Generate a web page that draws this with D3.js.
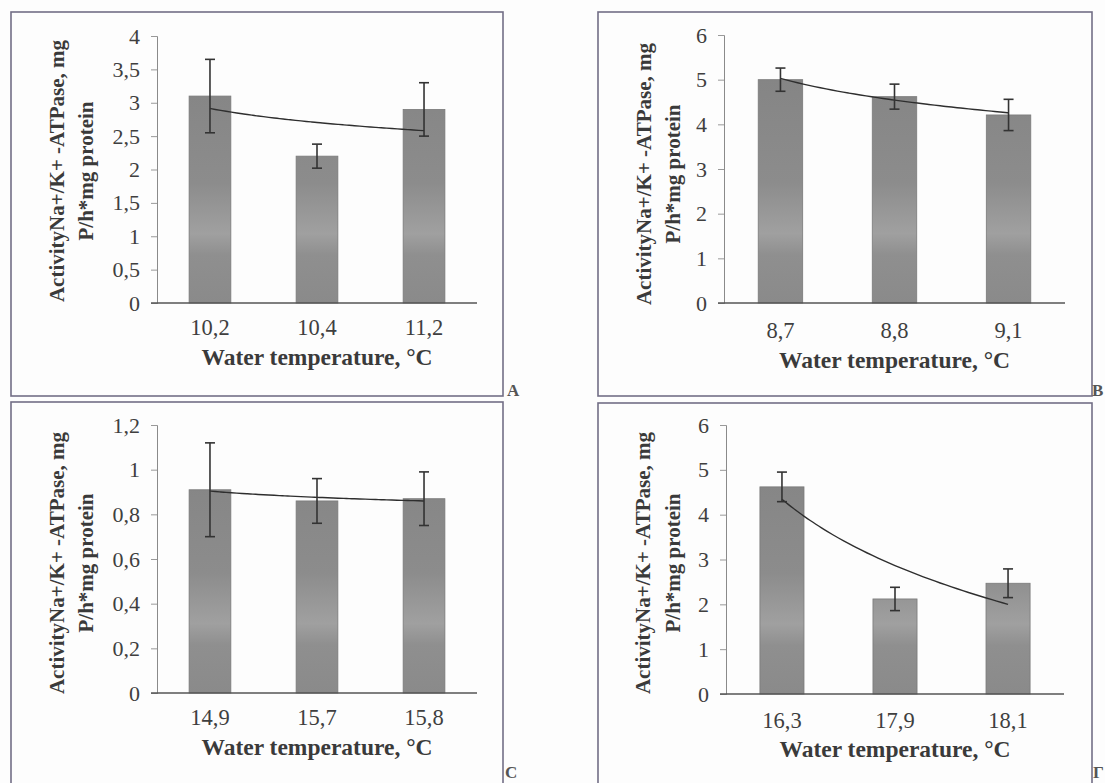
<!DOCTYPE html>
<html>
<head>
<meta charset="utf-8">
<script src="https://cdn.jsdelivr.net/npm/d3@7/dist/d3.min.js"></script>
<style>
  body { margin: 0; background: #fff; }
</style>
</head>
<body>
<svg id="chart" width="1105" height="783"></svg>
<script>
// values (mean and +/- error)
const tempsA = ['10,2', '10,4', '11,2']
const meansA = [3.1, 2.2, 2.9]
const errA = [0.55, 0.18, 0.4]
const ticksA = [0, 0.5, 1, 1.5, 2, 2.5, 3, 3.5, 4]

const tempsB = ['8,7', '8,8', '9,1']
const meansB = [5.0, 4.62, 4.21]
const errB = [0.26, 0.28, 0.35]
const ticksB = [0, 1, 2, 3, 4, 5, 6]

const tempsC = ['14,9', '15,7', '15,8']
const meansC = [0.91, 0.86, 0.87]
const errC = [0.21, 0.1, 0.12]
const ticksC = [0, 0.2, 0.4, 0.6, 0.8, 1, 1.2]

const tempsD = ['16,3', '17,9', '18,1']
const meansD = [4.62, 2.12, 2.47]
const errD = [0.33, 0.26, 0.32]
const ticksD = [0, 1, 2, 3, 4, 5, 6]

const yTitle1 = 'ActivityNa+/K+ -ATPase, mg'
const yTitle2 = 'P/h*mg protein'
const xTitle = 'Water temperature, °C'

const FONT = '"Liberation Serif", "Times New Roman", serif'

const panels = [
  {id: 'a', letter: 'A', temps: tempsA, means: meansA, err: errA, ticks: ticksA,
   frame: [11, 12, 503, 396], x0: 157, x1: 477, yTop: 36, yZero: 303,
   tickBase: 335, titleBase: 365, yt1: 57, yt2: 86, ytc: 171, letterPos: [507, 396]},
  {id: 'b', letter: 'B', temps: tempsB, means: meansB, err: errB, ticks: ticksB,
   frame: [598, 12, 1092, 396], x0: 724, x1: 1065, yTop: 35, yZero: 303,
   tickBase: 338, titleBase: 368, yt1: 644, yt2: 673, ytc: 174, letterPos: [1092, 396]},
  {id: 'c', letter: 'C', temps: tempsC, means: meansC, err: errC, ticks: ticksC,
   frame: [11, 402, 503, 800], x0: 157, x1: 477, yTop: 425, yZero: 693,
   tickBase: 725, titleBase: 755, yt1: 57, yt2: 86, ytc: 563, letterPos: [505, 778]},
  {id: 'd', letter: 'Г', temps: tempsD, means: meansD, err: errD, ticks: ticksD,
   frame: [598, 403, 1092, 800], x0: 726, x1: 1064, yTop: 425, yZero: 694,
   tickBase: 728, titleBase: 757, yt1: 643, yt2: 673, ytc: 563, letterPos: [1093, 778]}
]

const svg = d3.select('#chart')
svg.append('rect').attr('width', 1105).attr('height', 783).attr('fill', '#fdfdfd')
const defs = svg.append('defs')

const fmt = v => d3.format('~g')(v).replace('.', ',')

function drawPanel(p){
  const g = svg.append('g')

  // frame round each panel
  g.append('rect')
    .attr('x', p.frame[0]).attr('y', p.frame[1])
    .attr('width', p.frame[2] - p.frame[0]).attr('height', p.frame[3] - p.frame[1])
    .attr('fill', 'none').attr('stroke', '#726e86').attr('stroke-width', 1.6)

  g.append('text')
    .attr('x', p.letterPos[0]).attr('y', p.letterPos[1])
    .attr('font-family', FONT).attr('font-size', 17).attr('font-weight', 'bold').attr('fill', '#555')
    .text(p.letter)

  const x = d3.scaleBand().domain(p.temps).range([p.x0, p.x1])
    .paddingInner(0.61).paddingOuter(0.3)
  const y = d3.scaleLinear().domain([0, p.ticks[p.ticks.length - 1]]).range([p.yZero, p.yTop])

  // scan-like shading of the bars
  const grad = defs.append('linearGradient').attr('id', 'grad-' + p.id)
    .attr('gradientUnits', 'userSpaceOnUse')
    .attr('x1', 0).attr('x2', 0).attr('y1', p.yTop).attr('y2', p.yZero)
  grad.append('stop').attr('offset', '0%').attr('stop-color', '#828282')
  grad.append('stop').attr('offset', '55%').attr('stop-color', '#8c8c8c')
  grad.append('stop').attr('offset', '74%').attr('stop-color', '#a0a0a0')
  grad.append('stop').attr('offset', '82%').attr('stop-color', '#8f8f8f')
  grad.append('stop').attr('offset', '100%').attr('stop-color', '#8a8a8a')

  // y axis
  const yAxis = g.append('g').attr('transform', `translate(${p.x0},0)`)
    .call(d3.axisLeft(y).tickValues(p.ticks).tickFormat(fmt).tickSize(6).tickPadding(11))
  yAxis.attr('font-family', FONT)
  yAxis.select('.domain').attr('stroke', '#8a8a8a').attr('stroke-width', 1)
  yAxis.selectAll('.tick line').attr('stroke', '#999')
  yAxis.selectAll('.tick text').attr('font-size', 22).attr('fill', '#3f3f3f')
    .attr('font-family', FONT)

  // bars
  g.selectAll('rect.bar').data(p.means).join('rect').attr('class', 'bar')
    .attr('x', (d, i) => x(p.temps[i]))
    .attr('y', d => y(d))
    .attr('width', x.bandwidth())
    .attr('height', d => y(0) - y(d))
    .attr('fill', `url(#grad-${p.id})`)
    .attr('stroke', '#7a7a7a').attr('stroke-width', 0.8)

  // x axis line
  g.append('line').attr('x1', p.x0 - 6).attr('x2', p.x1)
    .attr('y1', p.yZero).attr('y2', p.yZero)
    .attr('stroke', '#555').attr('stroke-width', 1.5)

  g.selectAll('text.xlab').data(p.temps).join('text').attr('class', 'xlab')
    .attr('x', d => x(d) + x.bandwidth() / 2)
    .attr('y', p.tickBase)
    .attr('text-anchor', 'middle').attr('font-family', FONT).attr('font-size', 22.5).attr('fill', '#3f3f3f')
    .text(d => d)

  // logarithmic trend line through the means, as the spreadsheet draws it
  const lx = p.means.map((d, i) => Math.log(i + 1))
  const mx = d3.mean(lx), my = d3.mean(p.means)
  const b = d3.sum(lx, (v, i) => (v - mx) * (p.means[i] - my)) / d3.sum(lx, v => (v - mx) * (v - mx))
  const a = my - b * mx
  const pos = d3.scaleLinear().domain([1, p.means.length])
    .range([x(p.temps[0]) + x.bandwidth() / 2, x(p.temps[p.temps.length - 1]) + x.bandwidth() / 2])
  const pts = d3.range(1, p.means.length + 0.001, 0.05).map(t => [pos(t), y(a + b * Math.log(t))])
  g.append('path').attr('d', d3.line().curve(d3.curveBasis)(pts))
    .attr('fill', 'none').attr('stroke', '#2e2e2e').attr('stroke-width', 1.4)

  // error bars
  const eb = g.selectAll('g.err').data(p.means).join('g').attr('class', 'err')
    .attr('transform', (d, i) => `translate(${x(p.temps[i]) + x.bandwidth() / 2},0)`)
  eb.append('line').attr('y1', (d, i) => y(d + p.err[i])).attr('y2', (d, i) => y(d - p.err[i]))
    .attr('stroke', '#333').attr('stroke-width', 1.6)
  eb.append('line').attr('x1', -5).attr('x2', 5)
    .attr('y1', (d, i) => y(d + p.err[i])).attr('y2', (d, i) => y(d + p.err[i]))
    .attr('stroke', '#333').attr('stroke-width', 1.6)
  eb.append('line').attr('x1', -5).attr('x2', 5)
    .attr('y1', (d, i) => y(d - p.err[i])).attr('y2', (d, i) => y(d - p.err[i]))
    .attr('stroke', '#333').attr('stroke-width', 1.6)

  // titles
  g.append('text').attr('x', (p.x0 + p.x1) / 2).attr('y', p.titleBase)
    .attr('text-anchor', 'middle').attr('font-family', FONT).attr('font-size', 23.5)
    .attr('font-weight', 'bold').attr('fill', '#3a3a3a')
    .text(xTitle)

  const yt = g.append('g').attr('font-family', FONT).attr('font-size', 21)
    .attr('font-weight', 'bold').attr('fill', '#3a3a3a')
  yt.append('text').attr('transform', `translate(${p.yt1},${p.ytc}) rotate(-90)`)
    .attr('text-anchor', 'middle').attr('dy', '0.35em').text(yTitle1)
  yt.append('text').attr('transform', `translate(${p.yt2},${p.ytc}) rotate(-90)`)
    .attr('text-anchor', 'middle').attr('dy', '0.35em').text(yTitle2)
}

panels.forEach(drawPanel)
</script>
</body>
</html>
